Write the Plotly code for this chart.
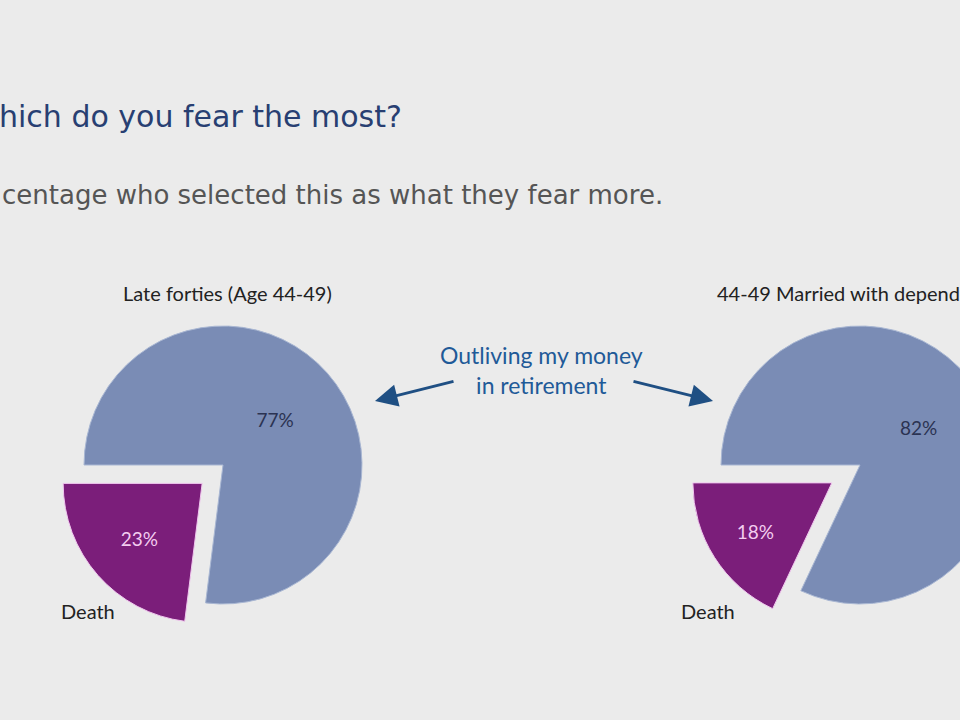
import plotly.graph_objects as go

# survey answers, percent who fear each the most
answers = ["Outliving my money in retirement", "Death"]
late_forties = [77, 23]
married_dependents = [82, 18]

groups = ["Late forties (Age 44-49)", "44-49 Married with dependents"]
pulls = [0.2, 0.24]

# the slide is cropped on the right, so the figure is wider than the window
W, H = 1040, 720
slice_colors = ["#7a8cb5", "#7b1e7a"]
text_colors = ["#2b3352", "#f3cdf0"]


def px(x):
    return x / W


def py(y):
    return 1 - y / H


def pie_domain(cx, cy, r, pull):
    # plotly shrinks the pie to fit the pulled slice: r = size / (2 + 2*pull)
    half = r * (1 + pull)
    return dict(x=[px(cx - half), px(cx + half)], y=[py(cy + half), py(cy - half)])


fig = go.Figure()
centers = [(223, 465), (860, 465)]
for vals, pull, (cx, cy) in zip([late_forties, married_dependents], pulls, centers):
    fig.add_trace(go.Pie(
        labels=answers, values=vals, sort=False, direction="clockwise",
        rotation=270, pull=[0, pull],
        marker=dict(colors=slice_colors, line=dict(color=["#a9b7d3", "#f0c6ee"], width=1)),
        texttemplate="%{value}%", textposition="inside",
        insidetextorientation="horizontal",
        insidetextfont=dict(family="Lato", size=19, color=text_colors),
        hoverinfo="label+percent", showlegend=False,
        domain=pie_domain(cx, cy, 139, pull),
    ))

notes = [
    dict(text="hich do you fear the most?", x=-3, y=117, xanchor="left",
         font=dict(family="DejaVu Sans", size=30, color="#283f72")),
    dict(text="centage who selected this as what they fear more.", x=0, y=195, xanchor="left",
         font=dict(family="DejaVu Sans", size=26, color="#555555")),
    dict(text=groups[0], x=227, y=293, xanchor="center",
         font=dict(family="Lato", size=20, color="#222222")),
    dict(text=groups[1], x=715, y=293, xanchor="left",
         font=dict(family="Lato", size=20, color="#222222")),
    dict(text="Outliving my money<br>in retirement", x=541, y=370, xanchor="center",
         font=dict(family="Lato", size=23, color="#1f5a98")),
    dict(text=answers[1], x=59, y=611, xanchor="left",
         font=dict(family="Lato", size=20, color="#222222")),
    dict(text=answers[1], x=679, y=611, xanchor="left",
         font=dict(family="Lato", size=20, color="#222222")),
]
for n in notes:
    fig.add_annotation(xref="paper", yref="paper", x=px(n["x"]), y=py(n["y"]),
                       xanchor=n["xanchor"], yanchor="middle", text=n["text"],
                       font=n["font"], showarrow=False)

# arrows pointing from the caption to each pie
for (x0, y0), (x1, y1) in [((455, 381), (375, 401)), ((632, 381), (713, 401))]:
    fig.add_annotation(xref="paper", yref="paper", axref="pixel", ayref="pixel",
                       x=px(x1), y=py(y1), ax=x0 - x1, ay=y0 - y1, text="",
                       showarrow=True, arrowhead=2, arrowsize=1.5, arrowwidth=3,
                       arrowcolor="#1f4f83")

fig.update_layout(width=W, height=H, margin=dict(l=0, r=0, t=0, b=0),
                  paper_bgcolor="#ebebeb", plot_bgcolor="#ebebeb")
fig.write_html("out.html",
               post_script="document.body.style.margin='0';"
                           "document.body.style.overflow='hidden';"
                           "document.body.style.background='#ebebeb';")
